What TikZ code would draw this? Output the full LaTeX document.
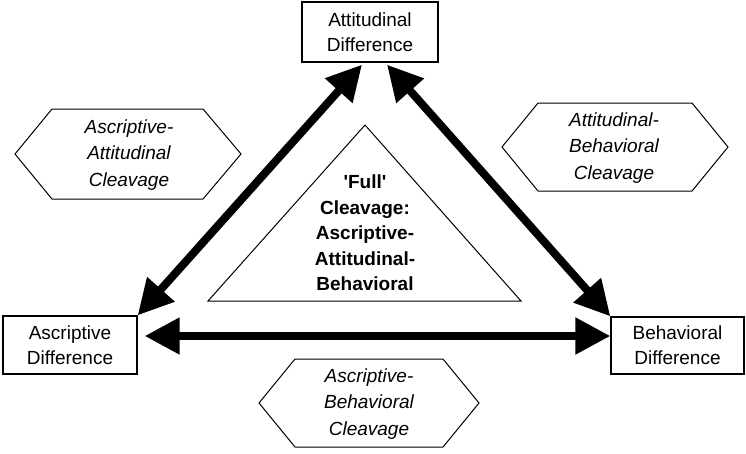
\documentclass[tikz,border=0pt]{standalone}
\usepackage{fontspec}
\setmainfont{Liberation Sans}
\newfontfamily\plainquotes{Liberation Sans}
\usetikzlibrary{arrows.meta,calc}
\begin{document}
\begin{tikzpicture}[x=1pt,y=-1pt,
  diffbox/.style={draw,line width=1.3pt,minimum width=#1,minimum height=58pt,inner sep=0pt,align=center,
    font=\fontsize{19}{25}\selectfont},
  hexline/.style={draw,line width=1pt,line join=miter},
  hextext/.style={align=center,inner sep=0pt,font=\fontsize{19}{26.5}\selectfont\itshape},
  fulltext/.style={align=center,inner sep=0pt,font=\plainquotes\fontsize{19}{25.5}\selectfont\bfseries},
  bigarrow/.style={line width=8pt,{Triangle[length=35pt,width=35pt]}-{Triangle[length=35pt,width=35pt]}}]
\useasboundingbox (0,0) rectangle (746,453);
% boxes
\node[diffbox=136pt,minimum height=60pt] (att) at (370,32) {Attitudinal\\Difference};
\node[diffbox=134pt] (asc) at (70,345) {Ascriptive\\Difference};
\node[diffbox=133pt,minimum height=57pt] (beh) at (677.5,345.5) {Behavioral\\Difference};
% hexagons
\node[hextext] (hexL) at (129,155) {Ascriptive-\\Attitudinal\\Cleavage};
\draw[hexline] ($(hexL.center)+(-114,-1)$) -- ($(hexL.center)+(-77,-46)$) -- ($(hexL.center)+(74,-46)$)
  -- ($(hexL.center)+(112,-1)$) -- ($(hexL.center)+(74,44)$) -- ($(hexL.center)+(-77,44)$) -- cycle;
\node[hextext] (hexR) at (614,148) {Attitudinal-\\Behavioral\\Cleavage};
\draw[hexline] ($(hexR.center)+(-112,-1)$) -- ($(hexR.center)+(-76,-45)$) -- ($(hexR.center)+(78,-45)$)
  -- ($(hexR.center)+(114,-1)$) -- ($(hexR.center)+(78,43)$) -- ($(hexR.center)+(-76,43)$) -- cycle;
\node[hextext] (hexB) at (369,404) {Ascriptive-\\Behavioral\\Cleavage};
\draw[hexline] ($(hexB.center)+(-110,-1)$) -- ($(hexB.center)+(-74,-45)$) -- ($(hexB.center)+(74,-45)$)
  -- ($(hexB.center)+(110,-1)$) -- ($(hexB.center)+(74,43)$) -- ($(hexB.center)+(-74,43)$) -- cycle;
% triangle
\node[fulltext] (full) at (365,233) {'Full'\\Cleavage:\\Ascriptive-\\Attitudinal-\\Behavioral};
\draw[line width=1pt,line join=miter] ($(full.center)+(0,-108)$) -- ($(full.center)+(156,68)$)
  -- ($(full.center)+(-157,68)$) -- cycle;
% arrows
\draw[bigarrow] (asc.north east) -- ($(att.south)+(-8,2)$);
\draw[bigarrow] ($(att.south)+(17,2)$) -- (beh.north west);
\draw[bigarrow] ($(asc.east)+(7,-9)$) -- ($(beh.west)+(0,-9.5)$);
\end{tikzpicture}
\end{document}
